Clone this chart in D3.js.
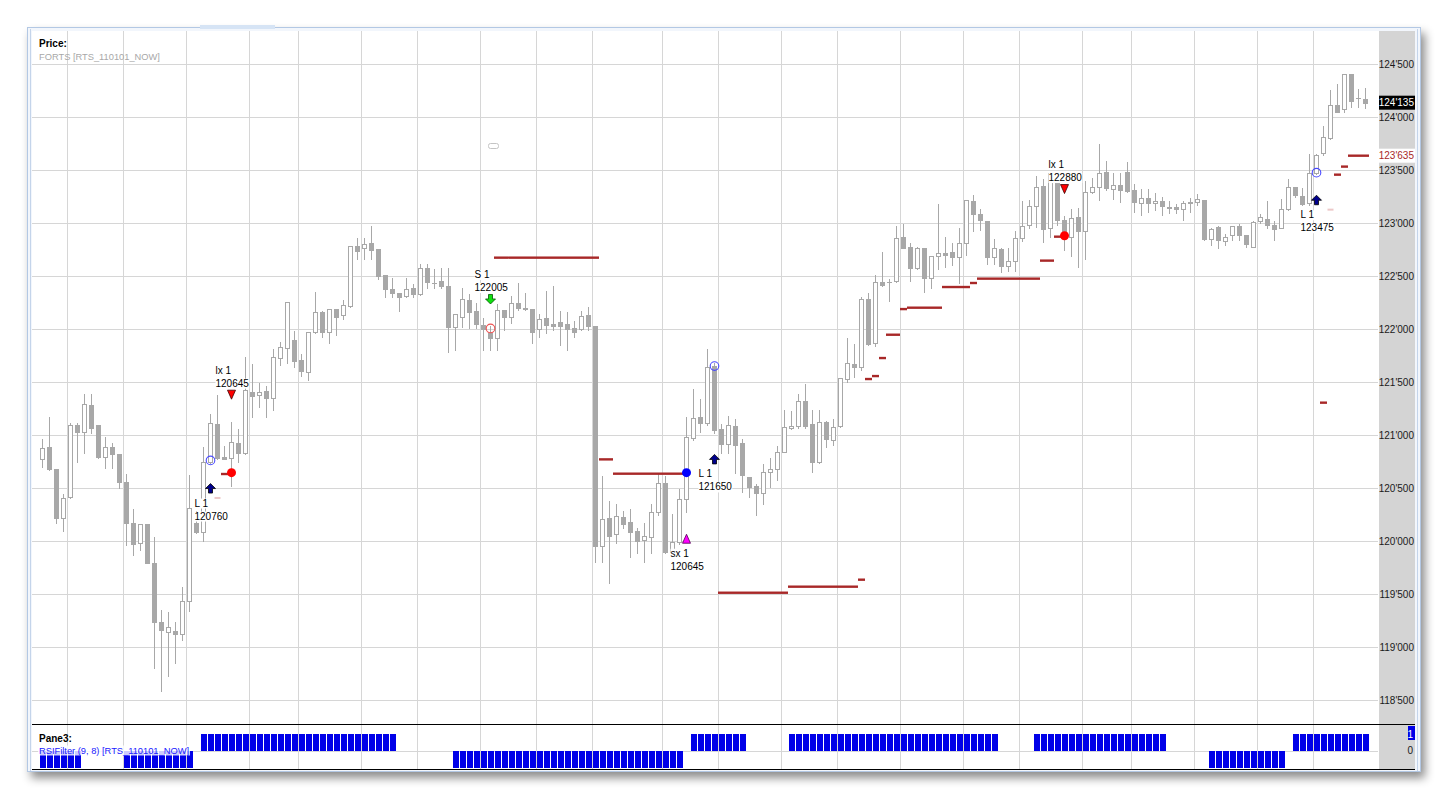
<!DOCTYPE html>
<html><head><meta charset="utf-8">
<script src="https://cdn.jsdelivr.net/npm/d3@7"></script>
<style>
body{margin:0;background:#fff;}
svg{display:block;}
text{font-family:"Liberation Sans",Arial,sans-serif;}
</style>
</head><body>
<svg id="c" width="1450" height="799"></svg>
<script>
// ---------- DATA ----------
const opens=[120770,120887,120679,120214,120412,121091,121025,121283,121091,120789,120884,120821,120554,120167,119978,120160,119796,119233,119138,119148,119120,119434,120167,120088,120749,121104,120789,120780,120921,120827,121402,121374,121415,121352,121723,121817,121893,121707,121591,121968,122163,121968,122185,122132,122217,122783,122761,122808,122755,122509,122377,122336,122308,122384,122327,122572,122431,122453,122406,122022,122110,122274,122170,122038,121959,121912,122179,122110,122248,122201,122186,121997,122101,122047,122063,122044,122013,121997,122132,122028,119956,120213,120062,120223,120176,120094,120012,120041,120270,120544,119893,119987,120393,120968,121166,121110,121651,121053,120915,121085,120921,120607,120519,120456,120654,120679,120842,121063,121085,121321,121103,120748,121119,120952,121088,121525,121670,121638,122280,121865,122446,122440,122456,122865,122770,122579,122761,122478,122692,122714,122723,122682,122808,123208,123085,123019,122682,122755,122597,122641,122855,122981,123160,123349,122950,123475,123028,122871,123053,122928,123289,123343,123484,123318,123358,123484,123311,123185,123233,123185,123207,123145,123154,123132,123185,123201,123217,122846,122959,122830,122887,122972,122887,122777,123019,123038,122981,122956,123129,123336,123255,123185,123468,123657,123799,124113,124073,124406,124183,124170];
const highs=[120970,121179,120690,120450,121126,121126,121393,121393,121095,120994,120937,120825,120638,120314,120165,120165,120047,119355,119340,119242,119579,120629,120293,120893,121205,121387,120906,121135,121063,121745,121682,121503,121471,121817,121890,122255,121990,121777,121970,122358,122179,122190,122190,122283,122790,122865,122865,122981,122760,122510,122487,122340,122487,122437,122626,122620,122572,122588,122588,122140,122399,122336,122258,122116,122038,122242,122180,122321,122447,122352,122190,122148,122368,122415,122179,122170,122085,122179,122217,122040,120622,120386,120355,120292,120308,120135,120182,120355,120638,120622,120261,120497,121179,121440,121346,121817,121692,121110,121188,121157,120968,120610,120544,120733,120796,120905,121242,121236,121399,121487,121242,121242,121141,121157,121540,121928,121871,122311,122352,122519,122736,122478,122981,122997,122824,122783,122765,122690,123186,122880,122818,122965,123220,123270,123138,123020,122862,122777,122777,122934,123217,123223,123453,123421,123480,123480,123075,123138,123154,123406,123431,123752,123594,123484,123484,123588,123374,123327,123327,123296,123255,123217,123185,123217,123248,123280,123220,122965,122981,122902,122981,123003,122890,123028,123091,123217,123028,123233,123421,123340,123343,123657,123657,123925,124261,124324,124418,124418,124271,124280];
const lows=[120695,120670,120167,120094,120405,120748,120833,121016,120785,120686,120686,120497,119962,119868,119915,119790,118799,118588,118726,118852,119066,119340,120080,120000,120740,120775,120770,120519,120742,120820,121173,121267,121173,121236,121660,121676,121645,121556,121519,121960,121928,121865,121943,122094,122210,122657,122657,122657,122472,122299,122299,122170,122299,122299,122320,122384,122384,122390,121780,121802,122022,122006,122006,121802,121802,121802,121990,122053,122179,122180,121865,121928,121959,121990,121849,121802,121928,121990,121990,119798,119798,119600,119978,120119,119852,119883,119805,119883,120245,119883,119883,119971,120276,120952,121031,121094,121015,120827,120827,120638,120465,120418,120245,120349,120512,120575,120835,121055,121063,121063,120654,120733,120883,120905,121080,121503,121550,121613,121850,121840,122406,122264,122440,122760,122453,122563,122346,122384,122563,122588,122604,122437,122698,122924,122934,122610,122610,122534,122547,122547,122830,122950,122959,122824,122871,122981,122745,122689,122588,122660,123280,123217,123311,123223,123201,123296,123107,123075,123107,123123,123075,123091,123091,123028,123107,123170,122840,122792,122761,122792,122840,122840,122777,122775,122997,122950,122840,122950,123123,123248,123170,123170,123460,123642,123795,124045,124050,124098,124092,124082];
const closes=[120880,120682,120214,120406,121091,121032,121289,121069,120789,120884,120824,120554,120167,119969,120160,119796,119233,119157,119185,119120,119434,120308,120088,120742,121110,120780,120774,120931,120827,121424,121371,121402,121352,121733,121827,122251,121701,121607,121968,122157,121968,122185,122110,122226,122786,122739,122799,122745,122503,122374,122343,122299,122374,122327,122572,122440,122437,122409,122022,122138,122280,122163,122047,121997,121912,122179,122116,122248,122201,122186,121975,122091,122038,122028,122031,121997,121975,122126,122031,119956,120204,120050,120235,120160,120088,120000,120044,120270,120544,119893,119987,120393,120984,121157,121110,121638,121047,120915,121094,120905,120622,120512,120456,120647,120679,120836,121072,121085,121321,121085,120748,121119,120959,121078,121534,121676,121638,122280,121855,122446,122415,122440,122862,122767,122579,122761,122484,122689,122714,122701,122682,122808,123217,123082,123028,122682,122761,122597,122641,122855,122975,123160,123336,122940,123475,123028,122871,123044,122928,123289,123336,123468,123327,123358,123311,123302,123201,123233,123185,123207,123163,123150,123132,123185,123201,123223,122846,122940,122840,122871,122972,122887,122802,123006,123053,122981,122940,123129,123336,123264,123176,123468,123641,123808,124113,124050,124406,124154,124183,124135];
const priceTicks=[118500,119000,119500,120000,120500,121000,121500,122000,122500,123000,123500,124000,124500];
const gridBars=[3.5,11.5,20.5,29.5,36.5,45.5,53.5,62.5,70.5,78.5,88.5,96.5,105.5,113.5,122.5,131.5,139.5,148.5,155.5,164.5,173.5,181.5];
// stop level runs: [firstBar, lastBar, price]
const stopRuns=[[26,26,120632],[65,79,122673],[80,81,120770],[82,91,120635],[97,106,119512],[107,116,119569],[117,117,119635],[118,118,121528],[119,119,121556],[120,120,121726],[121,122,121946],[123,123,122188],[124,128,122201],[129,132,122396],[133,133,122434],[134,142,122475],[143,144,122645],[145,145,122871],[183,183,121305],[185,185,123456],[186,186,123532],[187,189,123635]];
const faintStops=[[25,120406],[184,123126]];
const tradeBars=[24,27,64,92,96,146,182];
const tradeTypes=["L","lx","S","sx","L","lx","L"];
const tradeNames=["L 1","lx 1","S 1","sx 1","L 1","lx 1","L 1"];
const tradePrices=[120760,120645,122005,120645,121650,122880,123475];
const rsiFilter=[-1,-1,-1,-1,-1,-1,0,0,0,0,0,0,-1,-1,-1,-1,-1,-1,-1,-1,-1,-1,0,1,1,1,1,1,1,1,1,1,1,1,1,1,1,1,1,1,1,1,1,1,1,1,1,1,1,1,1,0,0,0,0,0,0,0,0,-1,-1,-1,-1,-1,-1,-1,-1,-1,-1,-1,-1,-1,-1,-1,-1,-1,-1,-1,-1,-1,-1,-1,-1,-1,-1,-1,-1,-1,-1,-1,-1,-1,0,1,1,1,1,1,1,1,1,0,0,0,0,0,0,1,1,1,1,1,1,1,1,1,1,1,1,1,1,1,1,1,1,1,1,1,1,1,1,1,1,1,1,1,1,0,0,0,0,0,1,1,1,1,1,1,1,1,1,1,1,1,1,1,1,1,1,1,1,0,0,0,0,0,0,-1,-1,-1,-1,-1,-1,-1,-1,-1,-1,-1,0,1,1,1,1,1,1,1,1,1,1,1];
const lastPrice=124135;
const stopLabel=123635;
const rsiTicks=[0,1];

// ---------- LAYOUT ----------
const svg=d3.select("#c");
const L=32, R=1378, AX=1415, T=31, PB=724, BB=769;
const x=d3.scaleLinear().domain([0,189]).range([42.5,1365.5]);
const y=d3.scaleLinear().domain([118500,124500]).range([700,64]);
const yr=d3.scaleLinear().domain([-1,1]).range([767.5,734]);
const fmt=v=>String(v).replace(/(\d{3})(\d{3})$/,"$1'$2");
const px=v=>Math.round(v)+0.5;

const defs=svg.append("defs");
const f=defs.append("filter").attr("id","sh").attr("x","-5%").attr("y","-5%").attr("width","110%").attr("height","115%");
f.append("feDropShadow").attr("dx",4).attr("dy",6).attr("stdDeviation",5).attr("flood-color","#000").attr("flood-opacity",0.45);
defs.append("clipPath").attr("id","cp").append("rect").attr("x",L).attr("y",T).attr("width",R-L).attr("height",PB-T);
defs.append("clipPath").attr("id","cb").append("rect").attr("x",L).attr("y",PB).attr("width",R-L).attr("height",BB-PB);

// window frame
svg.append("rect").attr("x",27).attr("y",27).attr("width",1394).attr("height",745).attr("fill","#eef3fb").attr("filter","url(#sh)");
svg.append("rect").attr("x",27.5).attr("y",27.5).attr("width",1393).attr("height",744).attr("fill","#f2f6fc").attr("stroke","#b3c8e4");
svg.append("rect").attr("x",200).attr("y",25).attr("width",75).attr("height",4).attr("fill","#d6e4f5");
svg.append("rect").attr("x",L).attr("y",T).attr("width",AX-L).attr("height",BB-T).attr("fill","#fff");
svg.append("line").attr("x1",30.5).attr("x2",30.5).attr("y1",29).attr("y2",771).attr("stroke","#c4d4ea");
svg.append("line").attr("x1",1417.5).attr("x2",1417.5).attr("y1",29).attr("y2",771).attr("stroke","#c4d4ea");

// axis panel
svg.append("rect").attr("x",R+1).attr("y",T).attr("width",AX-R-1).attr("height",BB-T).attr("fill","#d4d4d4");

// grid
const g=svg.append("g").attr("shape-rendering","crispEdges");
g.selectAll(".vg").data(gridBars).join("line").attr("x1",d=>px(x(d))).attr("x2",d=>px(x(d))).attr("y1",T).attr("y2",BB).attr("stroke","#d6d6d6");
g.selectAll(".hg").data(priceTicks).join("line").attr("x1",L).attr("x2",R).attr("y1",d=>px(y(d))).attr("y2",d=>px(y(d))).attr("stroke","#d6d6d6");
g.append("line").attr("x1",L).attr("x2",R).attr("y1",px(yr(0))).attr("y2",px(yr(0))).attr("stroke","#d6d6d6");

// small box artifact
svg.append("rect").attr("x",488.5).attr("y",143.5).attr("width",10).attr("height",5).attr("rx",2).attr("fill","#fff").attr("stroke","#c4c4c4");

// candles
const idx=d3.range(opens.length);
const cg=svg.append("g").attr("clip-path","url(#cp)").attr("shape-rendering","crispEdges");
const CC="#a8a8a8";
cg.selectAll(".w").data(idx).join("line").attr("x1",i=>x(i)).attr("x2",i=>x(i)).attr("y1",i=>px(y(highs[i]))).attr("y2",i=>px(y(lows[i]))).attr("stroke",CC);
cg.selectAll(".b").data(idx).join("rect")
 .attr("x",i=>x(i)-2).attr("width",4)
 .attr("y",i=>px(y(Math.max(opens[i],closes[i]))))
 .attr("height",i=>Math.max(0.01,Math.round(y(Math.min(opens[i],closes[i])))-Math.round(y(Math.max(opens[i],closes[i])))))
 .attr("fill",i=>closes[i]<opens[i]?CC:"#fff").attr("stroke",CC);

// stop levels
const stopPts=[];
stopRuns.forEach(r=>{for(let i=r[0];i<=r[1];i++)stopPts.push([i,r[2]]);});
const sg=svg.append("g").attr("clip-path","url(#cp)");
sg.selectAll(".fs").data(faintStops).join("line").attr("x1",d=>x(d[0])-3).attr("x2",d=>x(d[0])+3).attr("y1",d=>y(d[1])).attr("y2",d=>y(d[1])).attr("stroke","#ecc8c8").attr("stroke-width",2);
sg.selectAll(".st").data(stopPts).join("line").attr("x1",d=>x(d[0])-3.5).attr("x2",d=>x(d[0])+3.5).attr("y1",d=>y(d[1])).attr("y2",d=>y(d[1])).attr("stroke","#a82828").attr("stroke-width",2.4);

// trades
const tg=svg.append("g");
const upArrow="M0,-5L5,0L2,0L2,4.5L-2,4.5L-2,0L-5,0Z";
const dnArrow="M0,5L5,0L2,0L2,-4.5L-2,-4.5L-2,0L-5,0Z";
tradeBars.forEach((b,k)=>{
  const t=tradeTypes[k], cx=x(b), cy=y(tradePrices[k]);
  let my, below;
  if(t==="L"){
    tg.append("circle").attr("cx",cx).attr("cy",cy).attr("r",4.3).attr("fill","none").attr("stroke","#4848ff").attr("stroke-width",1.1);
    my=y(lows[b])+26; below=true;
    tg.append("path").attr("d",upArrow).attr("transform",`translate(${cx},${my})`).attr("fill","#00008c").attr("stroke","#000").attr("stroke-width",0.8);
  } else if(t==="S"){
    tg.append("circle").attr("cx",cx).attr("cy",cy).attr("r",4.3).attr("fill","none").attr("stroke","#ee5050").attr("stroke-width",1.1);
    my=y(highs[b])-26; below=false;
    tg.append("path").attr("d",dnArrow).attr("transform",`translate(${cx},${my})`).attr("fill","#10e010").attr("stroke","#005500").attr("stroke-width",0.8);
  } else if(t==="lx"){
    tg.append("circle").attr("cx",cx).attr("cy",cy).attr("r",4.5).attr("fill","#ff0000");
    my=y(highs[b])-26; below=false;
    tg.append("path").attr("d","M-4,-4.5L4,-4.5L0,4.5Z").attr("transform",`translate(${cx},${my})`).attr("fill","#ff0000").attr("stroke","#400000").attr("stroke-width",0.8);
  } else {
    tg.append("circle").attr("cx",cx).attr("cy",cy).attr("r",4.5).attr("fill","#0000ff");
    my=y(lows[b])+27; below=true;
    tg.append("path").attr("d","M0,-4.5L4,4.5L-4,4.5Z").attr("transform",`translate(${cx},${my})`).attr("fill","#ff00ff").attr("stroke","#500050").attr("stroke-width",0.8);
  }
  const l1=below?my+18:my-21, l2=below?my+31:my-8;
  [[tradeNames[k],l1],[String(tradePrices[k]),l2]].forEach(([s,ly])=>{
    const bgR=tg.append("rect").attr("fill","#fff");
    const tx=tg.append("text").attr("x",cx-16).attr("y",ly).attr("font-size",10).attr("fill","#000").text(s);
    const bb=tx.node().getBBox();
    bgR.attr("x",bb.x).attr("y",bb.y+1).attr("width",bb.width).attr("height",bb.height-1);
  });
});

// bottom pane bars
const bg=svg.append("g").attr("clip-path","url(#cb)").attr("shape-rendering","crispEdges");
bg.selectAll("rect").data(idx.filter(i=>rsiFilter[i]!==0)).join("rect")
 .attr("x",i=>Math.round(x(i)-3.5)+0.5).attr("width",6)
 .attr("y",i=>Math.round(yr(Math.max(rsiFilter[i],0))))
 .attr("height",i=>Math.abs(Math.round(yr(rsiFilter[i]))-Math.round(yr(0))))
 .attr("fill","#0000e8");

// pane separators
svg.append("line").attr("x1",L).attr("x2",AX).attr("y1",PB+0.5).attr("y2",PB+0.5).attr("stroke","#000");
svg.append("line").attr("x1",L).attr("x2",AX).attr("y1",BB+0.5).attr("y2",BB+0.5).attr("stroke","#000");

// price axis
const ax=svg.append("g").attr("transform",`translate(${AX-1},0)`).call(d3.axisLeft(y).tickValues(priceTicks).tickSize(0).tickPadding(0).tickFormat(fmt));
ax.select(".domain").remove();
ax.selectAll("text").attr("font-size",10).attr("fill","#1a1a1a").attr("font-family","Liberation Sans,Arial,sans-serif");
// last price label
svg.append("rect").attr("x",R+1).attr("y",y(lastPrice)-7).attr("width",AX-R-1).attr("height",14).attr("fill","#000");
svg.append("text").attr("x",AX-1).attr("y",y(lastPrice)+3.5).attr("text-anchor","end").attr("font-size",10).attr("fill","#fff").text(fmt(lastPrice));
svg.append("rect").attr("x",R+1).attr("y",y(stopLabel)-7).attr("width",AX-R-1).attr("height",14).attr("fill","#fff");
svg.append("text").attr("x",AX-1).attr("y",y(stopLabel)+3.5).attr("text-anchor","end").attr("font-size",10).attr("fill","#a82828").text(fmt(stopLabel));

// rsi axis
svg.append("rect").attr("x",1408).attr("y",yr(1)-8).attr("width",7).attr("height",14).attr("fill","#0000e8");
svg.selectAll(".rt").data(rsiTicks).join("text").attr("x",AX-2).attr("y",d=>yr(d)+3.5).attr("text-anchor","end").attr("font-size",10).attr("fill",d=>d===1?"#fff":"#1a1a1a").text(d=>d);

// titles
svg.append("text").attr("x",39).attr("y",46.5).attr("font-size",10).attr("font-weight","bold").attr("fill","#000").text("Price:");
svg.append("text").attr("x",39).attr("y",59.5).attr("font-size",9.3).attr("fill","#a8a8a8").text("FORTS [RTS_110101_NOW]");
svg.append("text").attr("x",39).attr("y",741.5).attr("font-size",10).attr("font-weight","bold").attr("fill","#000").text("Pane3:");
const rsiT=svg.append("text").attr("x",39).attr("y",753.5).attr("font-size",9.3).attr("fill","#2020ff").text("RSIFilter (9, 8) [RTS_110101_NOW]");
const rb=rsiT.node().getBBox();
svg.insert("rect",function(){return rsiT.node();}).attr("x",rb.x-1).attr("y",rb.y).attr("width",rb.width+2).attr("height",rb.height).attr("fill","#fff").attr("opacity",0.8);
</script>
</body></html>
